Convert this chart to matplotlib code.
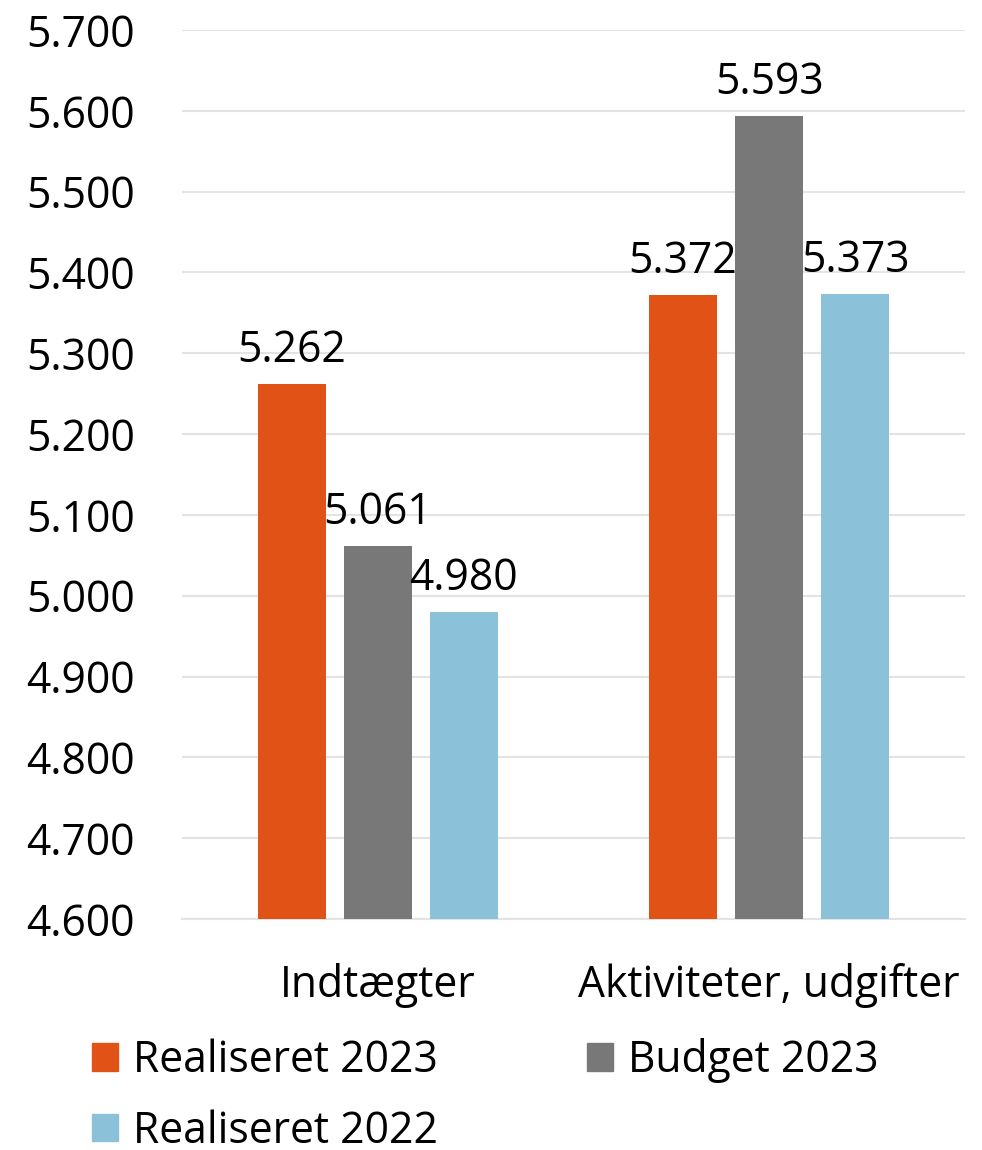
import matplotlib
matplotlib.use("Agg")
import matplotlib.pyplot as plt
from matplotlib.patches import Patch
import numpy as np

plt.rcParams['font.family'] = ['Open Sans', 'DejaVu Sans']

categories = ["Indtægter", "Aktiviteter, udgifter"]
series_names = ["Realiseret 2023", "Budget 2023", "Realiseret 2022"]
realiseret_2023 = [5262, 5372]
budget_2023 = [5061, 5593]
realiseret_2022 = [4980, 5373]
colors = ["#E05215", "#787878", "#8CC2D9"]
yticks = [4600, 4700, 4800, 4900, 5000, 5100, 5200, 5300, 5400, 5500, 5600, 5700]

FS = 30.7


def fmt(v):
    return f"{v:,.0f}".replace(",", ".")


fig = plt.figure(figsize=(9.82, 11.5), dpi=100)
ax = fig.add_axes([182 / 982, 231 / 1150, 783 / 982, 889 / 1150])

x = np.arange(len(categories))
width = 0.174
step = 0.22
all_series = [realiseret_2023, budget_2023, realiseret_2022]
for i, (vals, c) in enumerate(zip(all_series, colors)):
    pos = x + (i - 1) * step
    ax.bar(pos, np.array(vals) - 4600, width, bottom=4600, color=c, zorder=3)
    for p, v in zip(pos, vals):
        ax.annotate(fmt(v), (p, v), xytext=(0, 8), textcoords="offset points",
                    ha="center", va="bottom", fontsize=FS, color="black")

ax.set_xlim(-0.5, 1.5)
ax.set_ylim(4600, 5700)
ax.set_yticks(yticks)
ax.set_yticklabels([fmt(t) for t in yticks], fontsize=FS)
ax.set_xticks(x)
ax.set_xticklabels(categories, fontsize=FS)
ax.tick_params(axis="y", length=0, pad=34)
ax.tick_params(axis="x", length=0, pad=32)
ax.grid(axis="y", color="#E3E3E3", linewidth=1.5, zorder=0)
for s in ["top", "right", "left"]:
    ax.spines[s].set_visible(False)
ax.spines["bottom"].set_color("#E3E3E3")
ax.spines["bottom"].set_linewidth(1.5)

# legend is filled column by column, so reorder to get row order
order = [0, 2, 1]
handles = [Patch(color=colors[k]) for k in order]
labels = [series_names[k] for k in order]
fig.legend(handles, labels, loc="upper left", bbox_to_anchor=(92 / 982, 1 - 1038 / 1150),
           ncol=2, frameon=False, fontsize=FS, handlelength=0.6, handleheight=0.6,
           handletextpad=0.36, columnspacing=3.5, labelspacing=0.62,
           borderpad=0, borderaxespad=0)

fig.savefig("out.png", dpi=100)
